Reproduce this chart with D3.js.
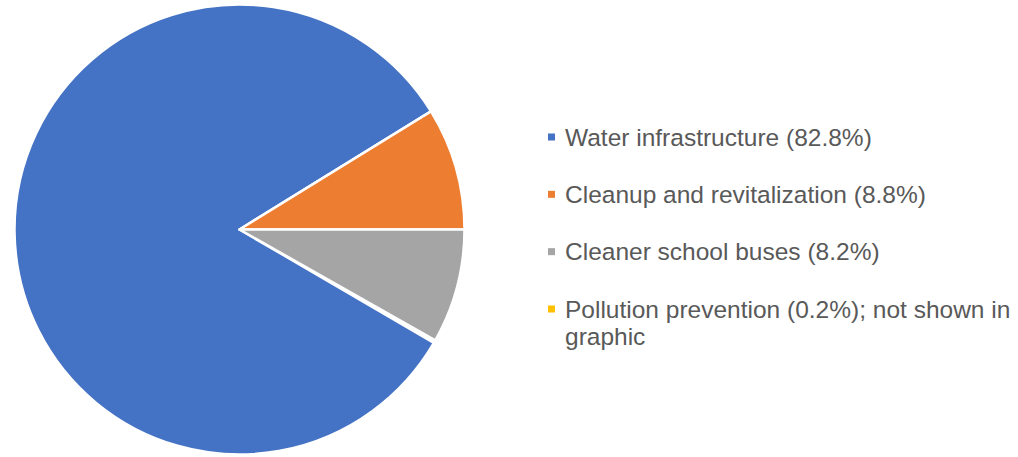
<!DOCTYPE html>
<html><head><meta charset="utf-8">
<script src="https://cdn.jsdelivr.net/npm/d3@7"></script>
<style>html,body{margin:0;padding:0;background:#fff;}svg{display:block;}</style>
</head><body>
<svg id="chart" width="1018" height="457"></svg>
<script>
const categories = ["Water infrastructure", "Cleanup and revitalization", "Cleaner school buses", "Pollution prevention"];
const values = [82.8, 8.8, 8.2, 0.2];
const legendLabels = ["Water infrastructure (82.8%)", "Cleanup and revitalization (8.8%)", "Cleaner school buses (8.2%)", "Pollution prevention (0.2%); not shown in|graphic"];
const shown = [true, true, true, false];
const colors = ["#4472C4", "#ED7D31", "#A5A5A5", "#FFC000"];

const svg = d3.select("#chart");
const cx = 239.5, cy = 229.5, r = 225;
const total = d3.sum(values);
// orange slice ends exactly at 3 o'clock
const offset = Math.PI/2 - 2*Math.PI*(values[0]+values[1])/total;
const pie = d3.pie().sort(null).value(d => d).startAngle(offset).endAngle(offset + 2*Math.PI);
const arcs = pie(values);
const arc = d3.arc().innerRadius(0).outerRadius(r);
const color = d3.scaleOrdinal().domain(categories).range(colors);

svg.append("g").attr("transform", `translate(${cx},${cy})`)
  .selectAll("path").data(arcs.filter((d,i) => shown[i])).join("path")
  .attr("d", arc)
  .attr("fill", (d,i) => color(categories[d.index]))
  .attr("stroke", "#fff").attr("stroke-width", 2.5).attr("stroke-linejoin", "round");

const ly = d3.scalePoint().domain(categories).range([137, 309]);
const lg = svg.append("g").attr("font-family", "Liberation Sans, Arial, sans-serif").attr("font-size", 24.5).attr("fill", "#595959");
categories.forEach((c, i) => {
  const y = ly(c);
  lg.append("rect").attr("x", 548).attr("y", y - 3.5).attr("width", 7).attr("height", 7).attr("fill", color(c));
  const lines = legendLabels[i].split("|");
  const t = lg.append("text").attr("x", 565).attr("y", y + 8.5);
  lines.forEach((ln, j) => t.append("tspan").attr("x", 565).attr("dy", j === 0 ? 0 : 27).text(ln));
});
</script>
</body></html>
